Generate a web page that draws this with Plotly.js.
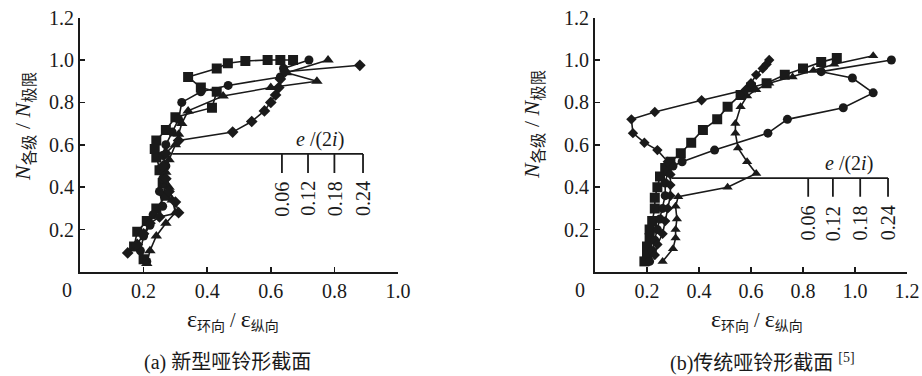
<!DOCTYPE html>
<html><head><meta charset="utf-8">
<script src="https://cdn.plot.ly/plotly-3.0.1.min.js"></script>
<style>html,body{margin:0;padding:0;background:#fff}#chart{width:922px;height:376px}</style>
</head><body><div id="chart"></div>
<script>
// ---------- data (a) new dumbbell section ----------
const aSquareX   = [0.20,0.17,0.18,0.21,0.24,0.27,0.26,0.25,0.24,0.235,0.24,0.27,0.30,0.415,0.43,0.38,0.34,0.43,0.465,0.52,0.59,0.63,0.67];
const aSquareY   = [0.06,0.12,0.19,0.24,0.30,0.36,0.42,0.48,0.54,0.58,0.62,0.67,0.73,0.775,0.85,0.87,0.92,0.96,0.985,0.995,1.0,1.0,1.0];
const aCircleX   = [0.21,0.19,0.20,0.22,0.23,0.26,0.25,0.26,0.27,0.26,0.27,0.29,0.31,0.32,0.38,0.466,0.63,0.64,0.72];
const aCircleY   = [0.05,0.10,0.17,0.22,0.27,0.31,0.38,0.44,0.50,0.55,0.60,0.66,0.72,0.80,0.85,0.88,0.92,0.96,1.0];
const aTriX      = [0.21,0.22,0.24,0.27,0.30,0.29,0.28,0.27,0.28,0.30,0.31,0.32,0.34,0.45,0.60,0.745,0.65,0.78];
const aTriY      = [0.04,0.10,0.17,0.23,0.28,0.34,0.40,0.47,0.53,0.60,0.65,0.70,0.76,0.83,0.87,0.90,0.94,1.0];
const aDiamondX  = [0.15,0.18,0.20,0.22,0.25,0.31,0.30,0.28,0.27,0.26,0.27,0.31,0.48,0.54,0.58,0.60,0.615,0.625,0.63,0.645,0.88];
const aDiamondY  = [0.09,0.13,0.18,0.23,0.26,0.28,0.33,0.38,0.44,0.50,0.56,0.62,0.66,0.71,0.76,0.80,0.835,0.87,0.91,0.945,0.975];
// ---------- data (b) traditional dumbbell section ----------
const bSquareX   = [0.19,0.20,0.20,0.21,0.21,0.22,0.23,0.23,0.24,0.25,0.27,0.29,0.33,0.37,0.415,0.47,0.51,0.56,0.60,0.66,0.73,0.80,0.87,0.93];
const bSquareY   = [0.05,0.08,0.12,0.16,0.20,0.24,0.30,0.35,0.40,0.45,0.49,0.52,0.56,0.61,0.67,0.72,0.78,0.835,0.87,0.89,0.93,0.96,0.99,1.01];
const bCircleX   = [0.21,0.22,0.23,0.24,0.25,0.26,0.27,0.27,0.28,0.30,0.335,0.46,0.665,0.74,0.955,1.07,0.99,0.87,1.14];
const bCircleY   = [0.05,0.10,0.15,0.20,0.25,0.30,0.36,0.42,0.47,0.50,0.52,0.575,0.655,0.72,0.775,0.845,0.915,0.945,1.0];
const bTriX      = [0.26,0.30,0.31,0.31,0.315,0.31,0.32,0.51,0.62,0.585,0.55,0.54,0.54,0.56,0.585,0.62,0.67,0.76,0.84,0.92,1.07];
const bTriY      = [0.05,0.11,0.16,0.20,0.25,0.31,0.355,0.40,0.465,0.52,0.585,0.655,0.70,0.78,0.83,0.86,0.89,0.92,0.95,0.98,1.02];
const bDiamondX  = [0.23,0.24,0.26,0.27,0.28,0.29,0.29,0.29,0.28,0.24,0.19,0.146,0.14,0.23,0.41,0.58,0.60,0.62,0.645,0.66,0.67];
const bDiamondY  = [0.08,0.13,0.18,0.24,0.30,0.36,0.41,0.46,0.52,0.575,0.61,0.655,0.72,0.755,0.81,0.86,0.89,0.93,0.96,0.98,1.0];
// ---------- labels ----------
const eLabels    = ['0.06','0.12','0.18','0.24'];
const xTicksA    = [0.2,0.4,0.6,0.8,1.0];
const xTicksB    = [0.2,0.4,0.6,0.8,1.0,1.2];
const yTicks     = [0.2,0.4,0.6,0.8,1.0,1.2];
const captionA   = '(a) 新型哑铃形截面';
const captionB   = '(b)传统哑铃形截面 <sup>[5]</sup>';

const SERIF = 'Liberation Serif, Times New Roman, serif';
const CJK = 'Liberation Serif, Noto Sans CJK SC, serif';
const INK = '#1a1a1a';
const FS = 20;

function tr(x, y, sym, size, xa, ya) {
  return {x, y, xaxis: xa, yaxis: ya, type: 'scatter', mode: 'lines+markers',
    line: {color: INK, width: 1.6}, marker: {symbol: sym, size: size, color: INK},
    showlegend: false, hoverinfo: 'skip'};
}
const data = [
  tr(aSquareX, aSquareY, 'square', 10, 'x', 'y'),
  tr(aCircleX, aCircleY, 'circle', 9, 'x', 'y'),
  tr(aTriX, aTriY, 'triangle-up', 10, 'x', 'y'),
  tr(aDiamondX, aDiamondY, 'diamond', 9, 'x', 'y'),
  tr(bSquareX, bSquareY, 'square', 10, 'x2', 'y2'),
  tr(bCircleX, bCircleY, 'circle', 9, 'x2', 'y2'),
  tr(bTriX, bTriY, 'triangle-up', 9, 'x2', 'y2'),
  tr(bDiamondX, bDiamondY, 'diamond', 8, 'x2', 'y2'),
];

const W = 922, H = 376;
const yDom = [(H-272)/H, (H-17.6)/H];
function xaxis(dom, rng, ticks, anchor) {
  return {domain: dom, range: rng, anchor, tickvals: ticks, ticktext: ticks.map(v => v.toFixed(1)),
    showline: true, linecolor: INK, linewidth: 2, ticks: 'inside', ticklen: 5, tickwidth: 1.5,
    tickcolor: INK, showgrid: false, zeroline: false, fixedrange: true,
    tickfont: {family: SERIF, size: FS, color: INK}};
}
function yaxis(anchor) {
  return {domain: yDom, range: [0, 1.2], anchor, tickvals: yTicks, ticktext: yTicks.map(v => v.toFixed(1)),
    showline: true, linecolor: INK, linewidth: 2, ticks: 'inside', ticklen: 5, tickwidth: 1.5,
    tickcolor: INK, showgrid: false, zeroline: false, fixedrange: true,
    tickfont: {family: SERIF, size: FS, color: INK}};
}

// inset "e/(2i)" scale bars (layout decoration)
function inset(xref, yref, x0, x1, yLine, yTickEnd, tickXs, yText, titleX, titleY) {
  const shapes = [{type: 'line', xref, yref, x0, x1, y0: yLine, y1: yLine, line: {color: INK, width: 1.6}}];
  tickXs.forEach(t => shapes.push({type: 'line', xref, yref, x0: t, x1: t, y0: yLine, y1: yTickEnd, line: {color: INK, width: 1.8}}));
  const anns = tickXs.map((t, i) => ({xref, yref, x: t, y: yText, text: eLabels[i], showarrow: false,
    xanchor: 'center', yanchor: 'middle', textangle: -90, font: {family: SERIF, size: FS, color: INK}}));
  anns.push({xref, yref, x: titleX, y: titleY, text: '<i>e</i> /(2<i>i</i>)', showarrow: false,
    xanchor: 'center', yanchor: 'middle', font: {family: SERIF, size: FS, color: INK}});
  return {shapes, anns};
}
const insA = inset('x', 'y', 0.29, 0.89, 0.557, 0.467, [0.635, 0.717, 0.80, 0.89], 0.345, 0.755, 0.625);
const insB = inset('x2', 'y2', 0.296, 1.127, 0.443, 0.355, [0.82, 0.915, 1.02, 1.127], 0.23, 0.975, 0.51);

const ytitle = '<i>N</i><sub>各级</sub> / <i>N</i><sub>极限</sub>';
const xtitle = '<span style="font-size:24px">ε</span><sub>环向</sub> / <span style="font-size:24px">ε</span><sub>纵向</sub>';
function pa(x, y, text, size, angle) {
  return {xref: 'paper', yref: 'paper', x: x/W, y: (H-y)/H, text, showarrow: false,
    xanchor: 'center', yanchor: 'middle', textangle: angle || 0, font: {family: CJK, size, color: INK}};
}
const annotations = [
  ...insA.anns, ...insB.anns,
  pa(67, 290, '0', FS), pa(580, 290, '0', FS),
  pa(24, 127, ytitle, 22, -90), pa(533, 125, ytitle, 22, -90),
  pa(233, 320, xtitle, 20), pa(757, 320, xtitle, 20),
  pa(227, 362, captionA, 20), pa(762, 362, captionB, 20),
];

const layout = {
  width: W, height: H, margin: {l: 0, r: 0, t: 0, b: 0},
  paper_bgcolor: '#fff', plot_bgcolor: '#fff', showlegend: false,
  xaxis: xaxis([80/W, 398/W], [0, 1.0], xTicksA, 'y'),
  yaxis: yaxis('x'),
  xaxis2: xaxis([595/W, 907/W], [0, 1.2], xTicksB, 'y2'),
  yaxis2: yaxis('x2'),
  shapes: [...insA.shapes, ...insB.shapes],
  annotations
};
Plotly.newPlot('chart', data, layout, {displayModeBar: false, staticPlot: true});
</script></body></html>
